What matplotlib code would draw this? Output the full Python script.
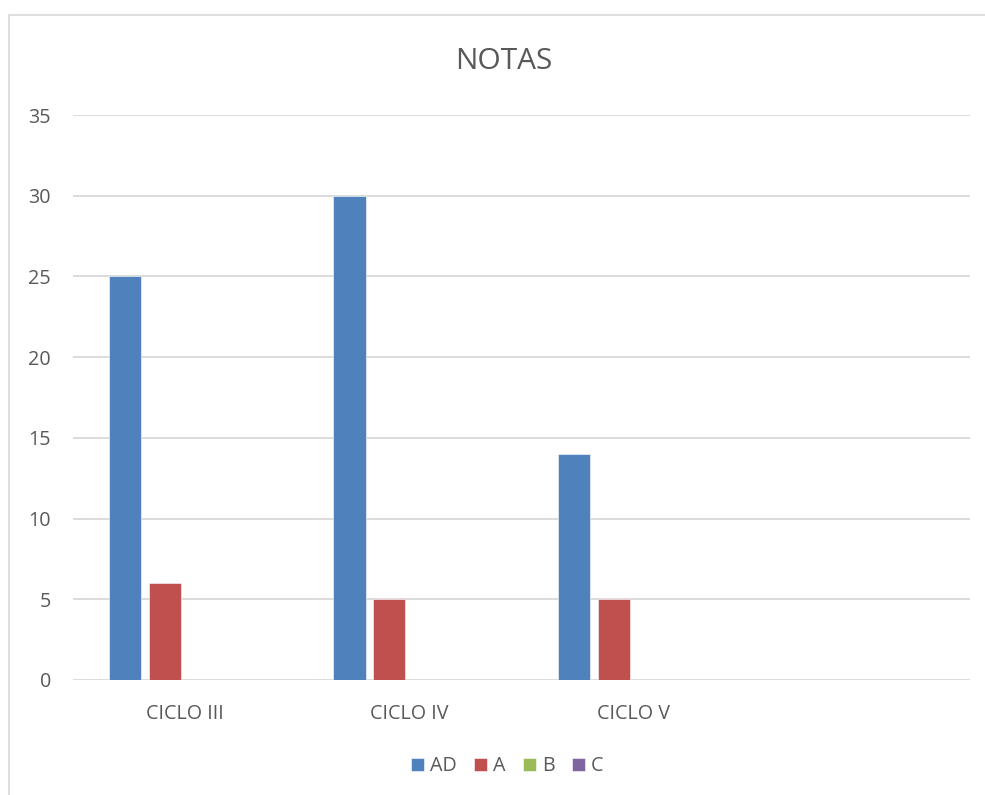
import numpy as np
import matplotlib.pyplot as plt
from matplotlib.patches import Rectangle

categorias = ['CICLO III', 'CICLO IV', 'CICLO V', '']
series = ['AD', 'A', 'B', 'C']
ad = [25, 30, 14, 0]
a = [6, 5, 5, 0]
b = [0, 0, 0, 0]
c = [0, 0, 0, 0]
valores = [ad, a, b, c]
colores = ['#4F81BD', '#C0504D', '#9BBB59', '#8064A2']

plt.rcParams['font.family'] = ['Open Sans', 'DejaVu Sans']
gris = '#595959'

fig = plt.figure(figsize=(9.85, 7.95), dpi=100)
ax = fig.add_axes([0.0741, 0.1447, 0.9107, 0.7106])

# marco del grafico
fig.patches.append(Rectangle((9 / 985, -0.1), 1.2, 1 - 15 / 795 + 0.1,
                             transform=fig.transFigure, fill=False,
                             edgecolor='#D9D9D9', lw=1.2))

x = np.arange(len(categorias))
ancho = 0.143
paso = 0.178
for i, (nombre, vals) in enumerate(zip(series, valores)):
    ax.bar(x + (i - 1.5) * paso, vals, ancho, color=colores[i], label=nombre,
           edgecolor='white', linewidth=0.4, zorder=3)

ax.set_xlim(-0.5, 3.5)
ax.set_ylim(0, 35)
ax.set_yticks(range(0, 36, 5))
ax.set_xticks(x)
ax.set_xticklabels(categorias)
ax.tick_params(length=0, labelsize=14.2, colors=gris)
ax.tick_params(axis='x', pad=17)
ax.tick_params(axis='y', pad=16)
ax.grid(axis='y', color='#D9D9D9', lw=1.3, zorder=0)
for s in ax.spines.values():
    s.set_visible(False)

fig.text(0.511, 0.923, 'NOTAS', ha='center', va='center', fontsize=21.5, color=gris)

fig.legend(*ax.get_legend_handles_labels(), loc='center', bbox_to_anchor=(0.515, 0.036),
           ncol=4, frameon=False, fontsize=14.2, labelcolor=gris,
           handlelength=0.65, handleheight=0.65, handletextpad=0.3, columnspacing=0.9)

fig.savefig('out.png', dpi=100)
